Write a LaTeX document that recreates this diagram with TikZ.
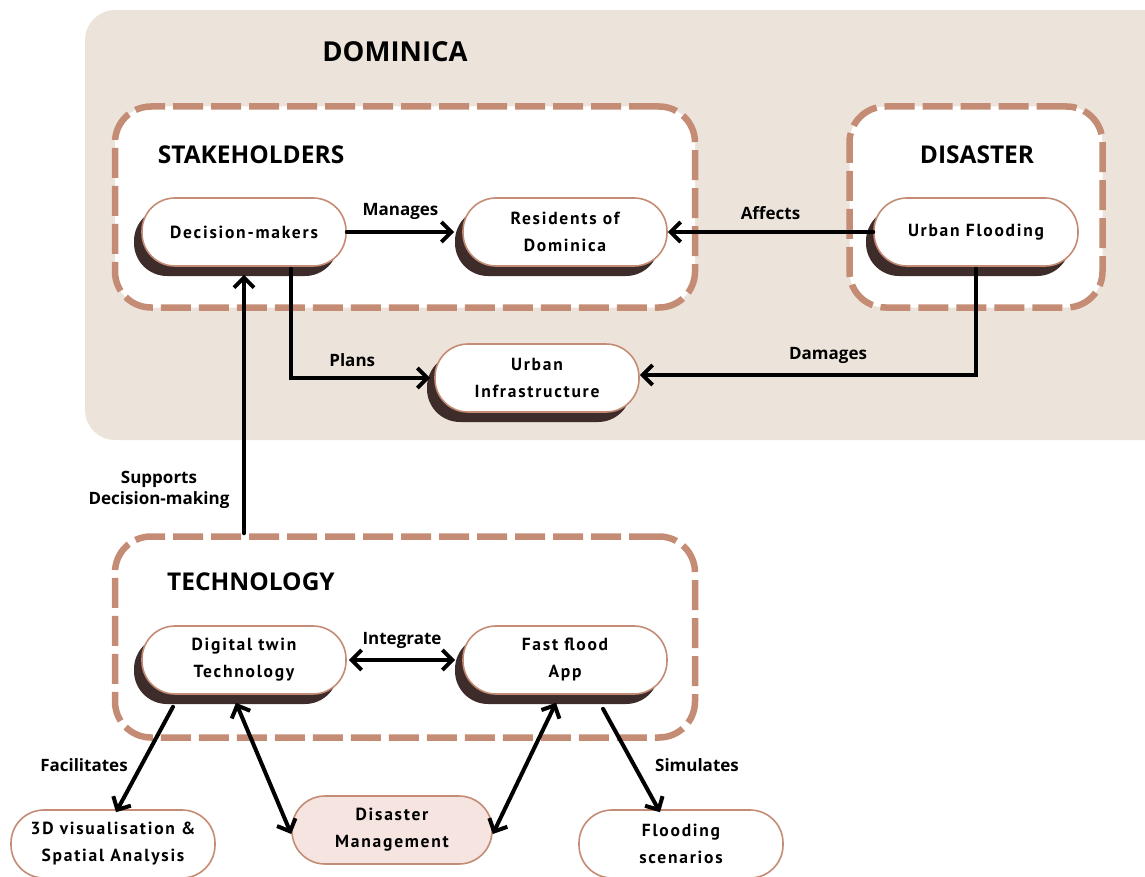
\documentclass[tikz,border=0pt]{standalone}
\usepackage{fontspec}
\setmainfont{Open Sans}
\newfontfamily\pillfont[LetterSpace=10]{PT Sans}
\usepackage{tikz}
\usetikzlibrary{arrows.meta,shadows}
\usepackage{xcolor}

\definecolor{sand}{HTML}{ECE4DA}
\definecolor{clay}{HTML}{C48C74}
\definecolor{cocoa}{HTML}{3E2C2B}
\definecolor{blush}{HTML}{F6E4E1}

\tikzset{
  frame/.style={draw=clay,fill=white,line width=6.5pt,line cap=butt,dash pattern=on 30pt off 8pt,
    rounded corners=36pt,inner sep=0pt},
  pill/.style={draw=clay,fill=white,line width=1.6pt,rounded corners=33pt,
    minimum width=204pt,minimum height=68pt,align=center,
    font=\pillfont\bfseries\fontsize{17.5}{27}\selectfont},
  shade/.style={pill,general shadow={fill=cocoa,shadow xshift=-8pt,shadow yshift=-10pt}},
  heading/.style={font=\bfseries\fontsize{24.5}{28}\selectfont},
  tag/.style={font=\bfseries\fontsize{17}{21}\selectfont,align=center},
  arr/.style={line width=4pt,-{Straight Barb[length=10pt,width=20pt,line width=4pt]}},
  darr/.style={line width=4pt,{Straight Barb[length=10pt,width=20pt,line width=4pt]}-{Straight Barb[length=10pt,width=20pt,line width=4pt]}}
}

\begin{document}
\begin{tikzpicture}[x=1pt,y=-1pt,line cap=round]
\useasboundingbox (0,0) rectangle (1145,877);
\fill[sand,rounded corners=30pt] (85,10) rectangle (1180,440);
\node[heading,font=\bfseries\fontsize{27.5}{30}\selectfont] (dominica) at (395,52) {DOMINICA};

% frames
\node[frame,minimum width=580pt,minimum height=201pt] (stake) at (405,207) {};
\node[frame,minimum width=253pt,minimum height=201pt] (dis) at (976,207) {};
\node[frame,minimum width=580pt,minimum height=201pt] (tech) at (405,637) {};
\node[heading] (stakeT) at (251,155) {STAKEHOLDERS};
\node[heading] (disT) at (977,155) {DISASTER};
\node[heading] (techT) at (251,582) {TECHNOLOGY};

% pills
\node[shade] (dm) at (244,232) {Decision-makers};
\node[shade] (res) at (565,232) {Residents of\\Dominica};
\node[shade] (flood) at (976,232) {Urban Flooding};
\node[shade] (infra) at (537,378) {Urban\\Infrastructure};
\node[shade] (dt) at (244,660) {Digital twin\\Technology};
\node[shade] (ff) at (565,660) {Fast flood\\App};
\node[pill] (vis) at (113,844) {3D visualisation \&\\Spatial Analysis};
\node[pill,fill=blush,minimum width=200pt] (mgmt) at (392,830) {Disaster\\Management};
\node[pill] (scen) at (681,844) {Flooding\\scenarios};

% connectors
\draw[arr] (dm.east) -- ([xshift=-8pt]res.west) node[tag,midway,above=7pt] {Manages};
\draw[arr] (flood.west) -- (res.east) node[tag,midway,above=7pt] {Affects};
\draw[arr] ([xshift=47pt,yshift=-2pt]dm.south) |- ([xshift=-4pt]infra.west) node[tag,pos=0.72,above=6pt] {Plans};
\draw[arr] ([yshift=-2pt]flood.south) |- ([yshift=3pt]infra.east) node[tag,pos=0.72,above=6pt] {Damages};
\draw[arr] (dm.south |- tech.north) -- ([yshift=-8pt]dm.south);
\node[tag] (supp) at (159,490) {Supports\\Decision-making};
\draw[darr] ([xshift=2pt]dt.east) -- ([xshift=-7pt]ff.west) node[tag,midway,above=6pt] {Integrate};
\draw[arr] ([xshift=-71pt,yshift=-12pt]dt.south) -- ([xshift=3pt,yshift=-3pt]vis.north);
\node[tag] (fac) at (84,765) {Facilitates};
\draw[darr] ([xshift=-8pt,yshift=-8pt]dt.south) -- ([yshift=-4pt]mgmt.west);
\draw[darr] ([xshift=-9pt,yshift=-8pt]ff.south) -- ([yshift=-4pt]mgmt.east);
\draw[arr] ([xshift=38pt,yshift=-14pt]ff.south) -- ([xshift=-21pt,yshift=-3pt]scen.north);
\node[tag] (sim) at (697,765) {Simulates};
\end{tikzpicture}
\end{document}
